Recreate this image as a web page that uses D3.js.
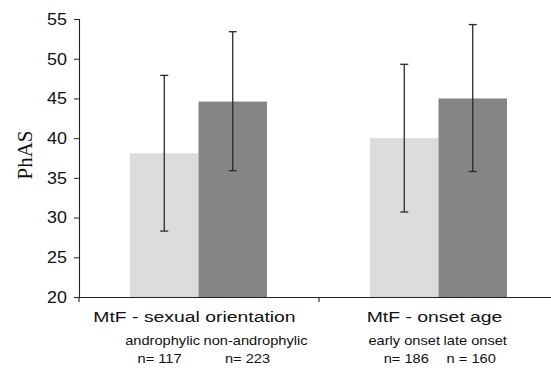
<!DOCTYPE html>
<html>
<head>
<meta charset="utf-8">
<script src="https://cdn.jsdelivr.net/npm/d3@7"></script>
<style>
  html, body { margin: 0; padding: 0; background: #fff; }
  svg { display: block; }
  text { font-family: Arial, "Liberation Sans", sans-serif; fill: #111; }
</style>
</head>
<body>
<svg id="chart" width="551" height="381"></svg>
<script>
// ---- data ----
const groups = ["MtF - sexual orientation", "MtF - onset age"];
const subgroups = ["a", "b"];
const subLabels = [["androphylic", "non-androphylic"], ["early onset", "late onset"]];
const nLabels = [["n= 117", "n= 223"], ["n= 186", "n = 160"]];
const means = [[38.1, 44.6], [40.0, 45.0]];
const lowerErr = [[28.3, 35.9], [30.7, 35.8]];
const upperErr = [[47.9, 53.4], [49.3, 54.3]];
const yTicks = [20, 25, 30, 35, 40, 45, 50, 55];
const yLabel = "PhAS";
const barColors = ["#dcdcdc", "#858585"];

// ---- layout ----
const svg = d3.select("#chart");
const x0 = 78.5, yTop = 19, yBottom = 297;
const y = d3.scaleLinear().domain([20, 55]).range([yBottom, yTop]);
const xg = d3.scaleBand().domain(groups).range([x0, x0 + 480]).padding(0);
const xs = d3.scaleBand().domain(subgroups).range([0, xg.bandwidth()])
  .paddingInner(0).paddingOuter(0.752);

function stext(parent, x, yy, txt, size, sx, anchor) {
  const g = parent.append("g").attr("transform", `translate(${x},${yy}) scale(${sx},1)`);
  return g.append("text").attr("text-anchor", anchor).style("font-size", size + "px").text(txt);
}

// bars
const rows = [];
groups.forEach((g, gi) => subgroups.forEach((s, si) => rows.push({
  g, s, gi, si, mean: means[gi][si], lo: lowerErr[gi][si], hi: upperErr[gi][si]
})));

svg.append("g").selectAll("rect").data(rows).join("rect")
  .attr("x", d => xg(d.g) + xs(d.s))
  .attr("width", xs.bandwidth())
  .attr("y", d => y(d.mean))
  .attr("height", d => y(20) - y(d.mean))
  .attr("fill", d => barColors[d.si]);

// error bars
const eb = svg.append("g").attr("stroke", "#2a2a2a").attr("stroke-width", 1.3);
rows.forEach(d => {
  const cx = xg(d.g) + xs(d.s) + xs.bandwidth() / 2;
  eb.append("line").attr("x1", cx).attr("x2", cx).attr("y1", y(d.lo)).attr("y2", y(d.hi));
  eb.append("line").attr("x1", cx - 4).attr("x2", cx + 4).attr("y1", y(d.lo)).attr("y2", y(d.lo));
  eb.append("line").attr("x1", cx - 4).attr("x2", cx + 4).attr("y1", y(d.hi)).attr("y2", y(d.hi));
});

// y axis
const yAxis = svg.append("g").attr("transform", `translate(${x0 + 0.5},0)`)
  .call(d3.axisLeft(y).tickValues(yTicks).tickSize(5).tickPadding(0).tickFormat(() => ""));
yAxis.select(".domain").attr("stroke", "#222").attr("stroke-width", 1.1);
yAxis.selectAll(".tick line").attr("stroke", "#222");
yTicks.forEach(t => {
  stext(svg, 67, y(t) + 5.8, String(t), 16, 1.12, "end");
});

// x axis line + ticks between categories
const xAxisG = svg.append("g").attr("stroke", "#222").attr("stroke-width", 1.1);
xAxisG.append("line").attr("x1", x0).attr("x2", 551).attr("y1", yBottom + 0.5).attr("y2", yBottom + 0.5);
groups.forEach(g => {
  const bx = xg(g);
  xAxisG.append("line").attr("x1", bx + 0.5).attr("x2", bx + 0.5)
    .attr("y1", yBottom).attr("y2", yBottom + 5);
});

// category labels
groups.forEach((g, gi) => {
  const cx = xg(g) + xg.bandwidth() / 2 - 4;
  stext(svg, cx, 322.3, g, 15.5, 1.25, "middle");
  const boundary = xg(g) + xs("b");
  const sx = 1.22;
  const t1 = stext(svg, boundary + 1.5, 345, subLabels[gi][0], 12, sx, "end");
  const t2 = stext(svg, boundary + 5, 345, subLabels[gi][1], 12, sx, "start");
  const w1 = t1.node().getComputedTextLength() * sx;
  const w2 = t2.node().getComputedTextLength() * sx;
  const c1 = boundary + 1.5 - w1 / 2;
  const c2 = boundary + 5 + w2 / 2;
  const adj = gi === 0 ? [-3, -8] : [2, -4];
  stext(svg, c1 + adj[0], 363, nLabels[gi][0], 12, sx, "middle");
  stext(svg, c2 + adj[1], 363, nLabels[gi][1], 12, sx, "middle");
});

// y label
svg.append("text")
  .attr("transform", `translate(32,155) rotate(-90)`)
  .attr("text-anchor", "middle")
  .style("font-family", "'Liberation Serif', 'Times New Roman', serif")
  .style("font-size", "21px")
  .text(yLabel);
</script>
</body>
</html>
